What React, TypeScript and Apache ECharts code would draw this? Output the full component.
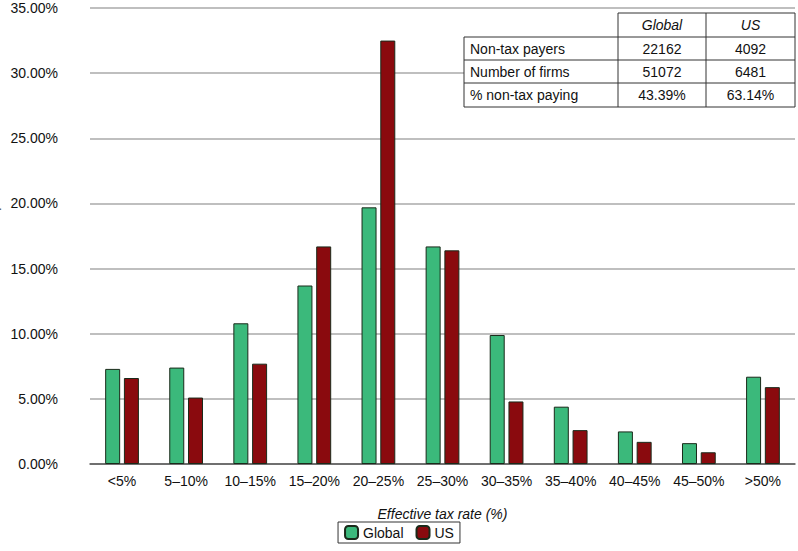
import React, { useEffect, useRef } from "react";
import * as echarts from "echarts";

const categories = ["<5%", "5–10%", "10–15%", "15–20%", "20–25%", "25–30%", "30–35%", "35–40%", "40–45%", "45–50%", ">50%"];
const globalValues = [7.3, 7.4, 10.8, 13.7, 19.7, 16.7, 9.9, 4.4, 2.5, 1.6, 6.7];
const usValues = [6.6, 5.1, 7.7, 16.7, 32.5, 16.4, 4.8, 2.6, 1.7, 0.9, 5.9];
const tableHeader = ["", "Global", "US"];
const tableRows = [
  ["Non-tax payers", "22162", "4092"],
  ["Number of firms", "51072", "6481"],
  ["% non-tax paying", "43.39%", "63.14%"],
];

const FONT = "Liberation Sans, Arial, sans-serif";

function buildTable() {
  const colX = [464, 618, 706, 795];
  const rowY = [13, 37, 60, 83, 107];
  const els: any[] = [];
  const line = (x1: number, y1: number, x2: number, y2: number) =>
    els.push({ type: "line", shape: { x1, y1, x2, y2 }, style: { stroke: "#333", lineWidth: 1 }, z: 10 });
  els.push({ type: "rect", shape: { x: 464, y: 37, width: 331, height: 70 }, style: { fill: "#fff" }, z: 9 });
  els.push({ type: "rect", shape: { x: 618, y: 13, width: 177, height: 24 }, style: { fill: "#fff" }, z: 9 });
  line(618, rowY[0], 795, rowY[0]);
  for (let r = 1; r < rowY.length; r++) line(464, rowY[r], 795, rowY[r]);
  line(464, 37, 464, 107);
  line(618, 13, 618, 107);
  line(706, 13, 706, 107);
  line(795, 13, 795, 107);
  const cell = (text: string, c: number, r: number, italic = false) => {
    const left = c === 0;
    els.push({
      type: "text",
      x: left ? colX[0] + 6 : (colX[c] + colX[c + 1]) / 2,
      y: (rowY[r] + rowY[r + 1]) / 2,
      style: {
        text, fontSize: 14, fontFamily: FONT, fontStyle: italic ? "italic" : "normal",
        fill: "#111", align: left ? "left" : "center", verticalAlign: "middle",
      },
      z: 11,
    });
  };
  tableHeader.forEach((t, c) => t && cell(t, c, 0, true));
  tableRows.forEach((row, r) => row.forEach((t, c) => cell(t, c, r + 1)));
  return els;
}

const App = () => {
  const ref = useRef<HTMLDivElement>(null);
  useEffect(() => {
    const chart = echarts.init(ref.current!, null, { renderer: "svg" });
    const barStyle = (color: string) => ({ color, borderColor: "#1a2a1a", borderWidth: 1 });
    chart.setOption({
      animation: false,
      textStyle: { fontFamily: FONT },
      grid: { left: 90, right: 3, top: 8, bottom: 87, outerBoundsMode: "none" },
      xAxis: {
        type: "category",
        data: categories,
        name: "Effective tax rate (%)",
        nameLocation: "middle",
        nameGap: 43,
        nameTextStyle: { fontStyle: "italic", fontSize: 14, color: "#111", fontFamily: FONT },
        axisLine: { lineStyle: { color: "#555", width: 1.5 } },
        axisTick: { show: false },
        axisLabel: { color: "#111", fontSize: 14, margin: 10, interval: 0 },
      },
      yAxis: {
        type: "value",
        min: 0,
        max: 35,
        interval: 5,
        name: "Percent of companies",
        nameLocation: "middle",
        nameGap: 80,
        nameTextStyle: { fontStyle: "italic", fontSize: 14, color: "#111", fontFamily: FONT },
        axisLine: { show: false },
        axisTick: { show: false },
        splitLine: { lineStyle: { color: "#aaa", width: 1.5 } },
        axisLabel: { color: "#111", fontSize: 14, margin: 32, formatter: (v: number) => v.toFixed(2) + "%" },
      },
      legend: {
        bottom: 8,
        left: "center",
        itemWidth: 13,
        itemHeight: 13,
        itemGap: 12,
        padding: [3, 6],
        borderColor: "#333",
        borderWidth: 1,
        textStyle: { fontSize: 14, color: "#111" },
        data: ["Global", "US"],
      },
      series: [
        { name: "Global", type: "bar", data: globalValues, barWidth: 15, barGap: "25%", itemStyle: barStyle("#3bb97b") },
        { name: "US", type: "bar", data: usValues, barWidth: 15, itemStyle: barStyle("#8a0a0e") },
      ],
      graphic: buildTable(),
    });
    return () => chart.dispose();
  }, []);
  return <div ref={ref} style={{ position: "absolute", left: 0, top: 0, width: 798, height: 551 }} />;
};

export default App;
